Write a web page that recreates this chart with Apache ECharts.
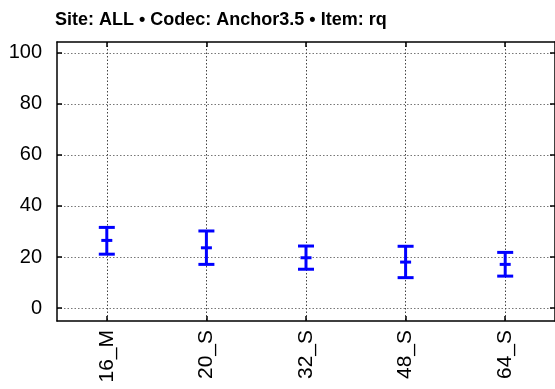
<!DOCTYPE html>
<html>
<head>
<meta charset="utf-8">
<script src="https://cdn.jsdelivr.net/npm/echarts@6/dist/echarts.min.js"></script>
<style>html,body{margin:0;padding:0;background:#fff}#c{width:555px;height:389px}</style>
</head>
<body>
<div id="c"></div>
<script>
var titleText = 'Site: ALL \u2022 Codec: Anchor3.5 \u2022 Item: rq';
var categories = ['16_M', '20_S', '32_S', '48_S', '64_S'];
var means = [26.5, 23.6, 19.7, 18.0, 17.1];
var lower = [21.1, 17.1, 15.2, 11.9, 12.5];
var upper = [31.6, 30.2, 24.3, 24.2, 21.8];
var yTicks = [0, 20, 40, 60, 80, 100];
var xTicks = [0, 1, 2, 3, 4];

var FONT = '"Liberation Sans", Arial, sans-serif';
var data = categories.map(function (c, i) { return [i, lower[i], means[i], upper[i]]; });

var chart = echarts.init(document.getElementById('c'), null, {renderer: 'canvas'});

function xAxisCfg(pos, showLabel) {
  return {
    type: 'value', position: pos, min: -0.5, max: 4.5,
    axisLine: {show: true, onZero: false, lineStyle: {color: '#000', width: 1.5}},
    axisTick: {show: true, inside: true, length: 5, customValues: xTicks, lineStyle: {color: '#000', width: 1.5}},
    axisLabel: {show: showLabel, customValues: xTicks, rotate: 90, margin: 9, color: '#000',
      fontFamily: FONT, fontSize: 21,
      formatter: function (v) { return categories[Math.round(v)]; }},
    splitLine: {show: showLabel, lineStyle: {color: '#444', type: [1.5, 2], width: 1}}
  };
}
function yAxisCfg(pos, showLabel) {
  return {
    type: 'value', position: pos, min: -5.1, max: 104.3,
    axisLine: {show: true, onZero: false, lineStyle: {color: '#000', width: 1.5}},
    axisTick: {show: true, inside: true, length: 5, customValues: yTicks, lineStyle: {color: '#000', width: 1.5}},
    axisLabel: {show: showLabel, customValues: yTicks, margin: 15, color: '#000',
      fontFamily: FONT, fontSize: 20},
    splitLine: {show: showLabel, lineStyle: {color: '#777', type: [1.5, 2], width: 1}}
  };
}

chart.setOption({
  animation: false,
  backgroundColor: '#fff',
  title: {text: titleText, left: 50, top: 6,
    textStyle: {fontFamily: FONT, fontWeight: 'bold', fontSize: 18, color: '#000'}},
  grid: {left: 57, top: 42, width: 499, height: 279, containLabel: false},
  xAxis: [xAxisCfg('bottom', true), xAxisCfg('top', false)],
  yAxis: [yAxisCfg('left', true), yAxisCfg('right', false)],
  series: [{
    type: 'custom',
    xAxisIndex: 0, yAxisIndex: 0,
    encode: {x: 0, y: [1, 2, 3]},
    data: data,
    renderItem: function (params, api) {
      var x = api.value(0);
      var pLo = api.coord([x, api.value(1)]);
      var pMid = api.coord([x, api.value(2)]);
      var pHi = api.coord([x, api.value(3)]);
      var cap = 8, mk = 5.5;
      var st = {stroke: '#0000ff', lineWidth: 3, fill: null};
      return {
        type: 'group',
        children: [
          {type: 'line', shape: {x1: pLo[0], y1: pLo[1], x2: pHi[0], y2: pHi[1]}, style: st},
          {type: 'line', shape: {x1: pLo[0] - cap, y1: pLo[1], x2: pLo[0] + cap, y2: pLo[1]}, style: st},
          {type: 'line', shape: {x1: pHi[0] - cap, y1: pHi[1], x2: pHi[0] + cap, y2: pHi[1]}, style: st},
          {type: 'line', shape: {x1: pMid[0] - mk, y1: pMid[1], x2: pMid[0] + mk, y2: pMid[1]}, style: st}
        ]
      };
    }
  }]
});
</script>
</body>
</html>
